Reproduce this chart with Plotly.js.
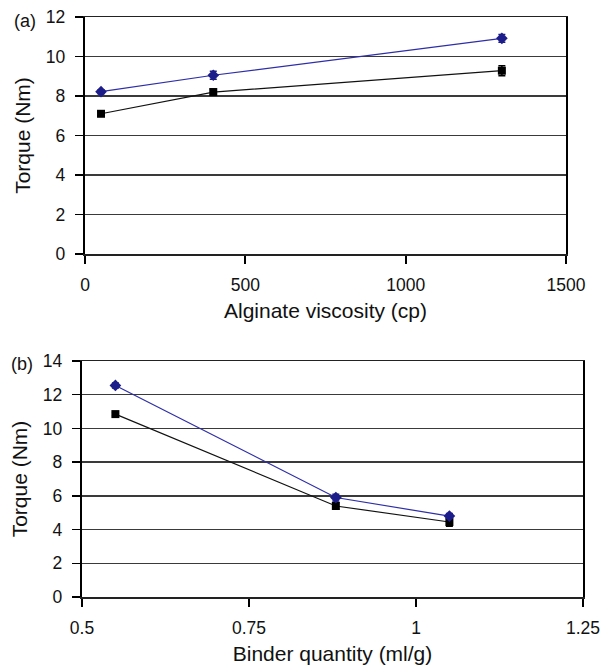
<!DOCTYPE html>
<html><head><meta charset="utf-8">
<script src="https://cdn.plot.ly/plotly-3.0.1.min.js"></script>
<style>html,body{margin:0;padding:0;background:#fff}#c{width:605px;height:669px}</style>
</head><body><div id="c"></div>
<script>
// Panel (a)
const viscosity = [50, 400, 1300];
const torqueA_blue = [8.22, 9.05, 10.92];
const errA_blue = [0.1, 0.2, 0.2];
const torqueA_black = [7.1, 8.2, 9.28];
const errA_black = [0.1, 0.15, 0.25];
// Panel (b)
const binder = [0.55, 0.88, 1.05];
const torqueB_blue = [12.55, 5.9, 4.8];
const errB_blue = [0.15, 0.2, 0.15];
const torqueB_black = [10.85, 5.4, 4.45];
const errB_black = [0.1, 0.2, 0.25];
const xTicksA = [0, 500, 1000, 1500];
const xTicksB = [0.5, 0.75, 1, 1.25];
const xTickTextB = ['0.5', '0.75', '1', '1.25'];

const W = 605, H = 669;
const blue = '#1c1c8a', black = '#000000';
const F = 'Liberation Sans, Arial, sans-serif';
function tr(x, y, e, col, sym, sz, xa, ya) {
  return {x: x, y: y, xaxis: xa, yaxis: ya, type: 'scatter', mode: 'lines+markers',
    line: {color: col === blue ? '#2e2ea8' : '#111', width: 1.2},
    marker: {color: col, symbol: sym, size: sz},
    error_y: {type: 'data', array: e, visible: true, color: col, thickness: 1.5, width: 3.5},
    showlegend: false, hoverinfo: 'skip'};
}
const data = [
  tr(viscosity, torqueA_black, errA_black, black, 'square', 8, 'x', 'y'),
  tr(viscosity, torqueA_blue, errA_blue, blue, 'diamond', 9, 'x', 'y'),
  tr(binder, torqueB_black, errB_black, black, 'square', 8, 'x2', 'y2'),
  tr(binder, torqueB_blue, errB_blue, blue, 'diamond', 9, 'x2', 'y2')
];
const tickF = {family: F, size: 17.5, color: '#111'};
const titleF = {family: F, size: 21, color: '#111'};
const xBase = {showline: true, linecolor: '#222', linewidth: 1.5, mirror: true,
  ticks: 'outside', ticklen: 8, tickcolor: '#000', tickwidth: 2,
  tickfont: tickF, zeroline: false, showgrid: false, ticklabelstandoff: 6};
const yBase = {showline: true, linecolor: '#000', linewidth: 2.2, mirror: true,
  ticks: 'outside', ticklen: 8, tickcolor: '#000', tickwidth: 1.5,
  tickfont: tickF, zeroline: false, showgrid: true, gridcolor: '#3a3a3a', gridwidth: 1.5,
  dtick: 2, ticklabelstandoff: 6};
const layout = {
  width: W, height: H, margin: {l: 0, r: 0, t: 0, b: 0},
  paper_bgcolor: '#fff', plot_bgcolor: '#fff', font: {family: F, color: '#111'},
  xaxis: Object.assign({}, xBase, {domain: [85/W, 566/W], range: [0, 1500], tickvals: xTicksA,
    anchor: 'y', title: {text: 'Alginate viscosity (cp)', font: titleF, standoff: 10}}),
  yaxis: Object.assign({}, yBase, {domain: [1 - 254/H, 1 - 17/H], range: [0, 12], anchor: 'x',
    title: {text: 'Torque (Nm)', font: titleF, standoff: 10}}),
  xaxis2: Object.assign({}, xBase, {domain: [82/W, 583/W], range: [0.5, 1.25], tickvals: xTicksB,
    ticktext: xTickTextB, anchor: 'y2',
    title: {text: 'Binder quantity (ml/g)', font: titleF, standoff: 10}}),
  yaxis2: Object.assign({}, yBase, {domain: [1 - 597/H, 1 - 361/H], range: [0, 14], anchor: 'x2',
    title: {text: 'Torque (Nm)', font: titleF, standoff: 10}}),
  annotations: [
    {text: '(a)', xref: 'paper', yref: 'paper', x: 12/W, y: 1 - 21/H, xanchor: 'left', yanchor: 'middle',
     showarrow: false, font: {family: F, size: 18, color: '#111'}},
    {text: '(b)', xref: 'paper', yref: 'paper', x: 9/W, y: 1 - 364/H, xanchor: 'left', yanchor: 'middle',
     showarrow: false, font: {family: F, size: 18, color: '#111'}}
  ]
};
Plotly.newPlot('c', data, layout, {staticPlot: true});
</script></body></html>
